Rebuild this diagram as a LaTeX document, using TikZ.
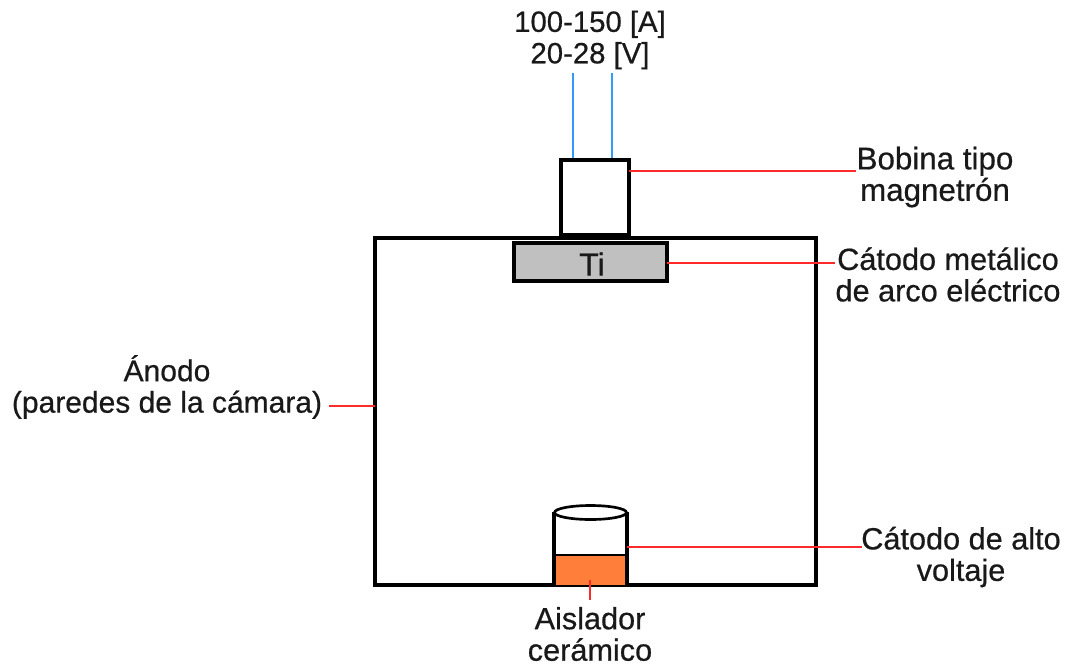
\documentclass[tikz,border=0pt]{standalone}
\usepackage{fontspec}
\setmainfont[FakeBold=0.6]{Liberation Sans}
\definecolor{redline}{HTML}{FF2A2A}
\definecolor{blueline}{HTML}{3399FF}
\definecolor{tigray}{HTML}{C0C0C0}
\definecolor{ceramic}{HTML}{FF7F3A}
\tikzset{
  x=0.75pt,y=-0.75pt,
  lbl/.style={align=center,inner sep=0pt,outer sep=0pt,font=\fontsize{#1}{23.6pt}\selectfont,text=black!90},
  lbl/.default=23pt,
  box/.style={draw=black,line width=2.3pt,inner sep=0pt,outer sep=0pt,anchor=north west},
  redw/.style={draw=redline,line width=1.3pt},
  bluew/.style={draw=blueline,line width=1.3pt},
}
\begin{document}
\begin{tikzpicture}
\useasboundingbox (0,0) rectangle (1070,665);
% chamber
\node[box,minimum width=330.75pt,minimum height=260.25pt] (chamber) at (375,238) {};
% coil
\node[box,minimum width=51pt,minimum height=56pt,line width=2.5pt] (coil) at (561,160) {};
\fill[black] (560,233) rectangle (630,238);
% target
\node[box,fill=tigray,minimum width=114.75pt,minimum height=28.5pt] (ti) at (514,243) {};
\node[lbl=24pt] (tilabel) at (592,264) {Ti};
% cylinder
\node[box,fill=ceramic,draw=none,minimum width=55pt,minimum height=22.5pt] (ins) at (554,555) {};
\draw[black,line width=0.9pt] (555,555) -- (626,555);
\draw[black,line width=2.3pt] (554,512) -- (554,585) (627,512) -- (627,585);
\draw[black,line width=2pt] (590.5,512.5) ellipse [x radius=36,y radius=7];
% labels
\node[lbl=23.5pt] (lcoil) at (935,177) {Bobina tipo\\magnetrón};
\node[lbl] (lcat) at (948,274.5) {Cátodo metálico\\de arco eléctrico};
\node[lbl=22.5pt] (lan) at (167,387) {Ánodo\\(paredes de la cámara)};
\node[lbl] (lhv) at (961,557) {Cátodo de alto\\voltaje};
\node[lbl=23pt] (lais) at (590,634) {Aislador\\cerámico};
\node[lbl=22pt] (lpow) at (590,40) {100-150 [A]\\20-28 [V]};
% connector ends
\coordinate (coilA) at (629,171);
\coordinate (coilB) at (856,171);
\coordinate (catA) at (667,263);
\coordinate (catB) at (835,263);
\coordinate (anA) at (329,406);
\coordinate (anB) at (375,406);
\coordinate (hvA) at (627,547);
\coordinate (hvB) at (862,547);
\coordinate (insA) at (590,580);
\coordinate (insB) at (590,600);
\coordinate (blA) at (573,73);
\coordinate (blB) at (573,158);
\coordinate (brA) at (612,73);
\coordinate (brB) at (612,158);
\draw[redw] (coilA) -- (coilB);
\draw[redw] (catA) -- (catB);
\draw[redw] (anA) -- (anB);
\draw[redw] (hvA) -- (hvB);
\draw[redw] (insA) -- (insB);
\draw[bluew] (blA) -- (blB);
\draw[bluew] (brA) -- (brB);
\end{tikzpicture}
\end{document}
